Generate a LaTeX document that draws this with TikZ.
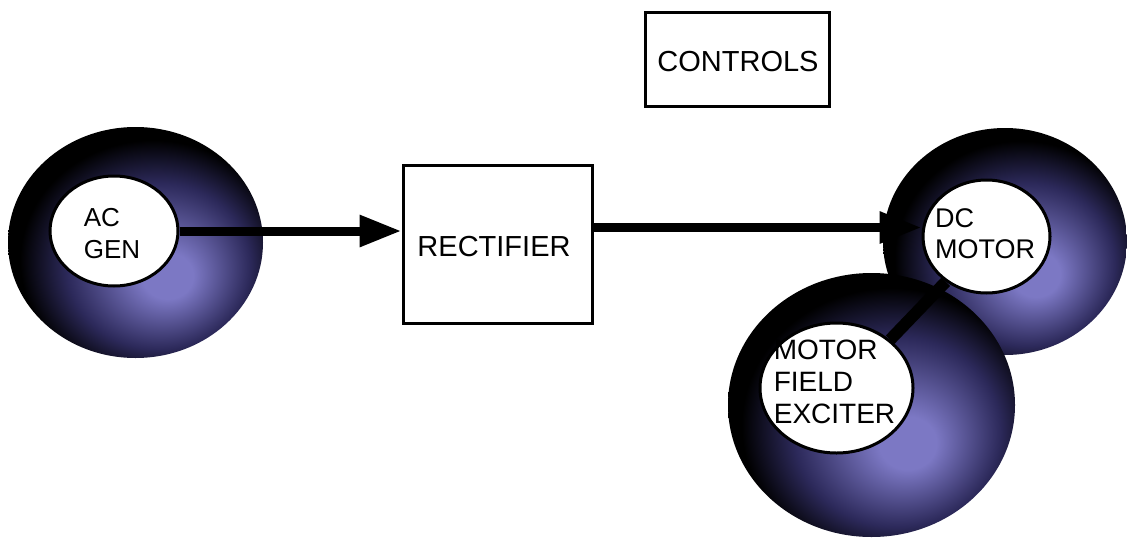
\documentclass[tikz,border=0pt]{standalone}
\usepackage{fontspec}
\setmainfont{Liberation Sans}
\usetikzlibrary{shapes.geometric,arrows.meta}
\definecolor{sphhi}{RGB}{124,120,196}
\definecolor{sphmid}{RGB}{44,41,90}
\pgfdeclareradialshading{sph}{\pgfpoint{7bp}{-8bp}}{color(0bp)=(sphhi); color(5bp)=(sphhi); color(18bp)=(sphmid); color(26bp)=(black); color(50bp)=(black)}
\begin{document}
\begin{tikzpicture}[x=1pt,y=-1pt,
  sphere/.style={ellipse, shade, shading=sph, inner sep=0pt},
  hole/.style={ellipse, draw=black, line width=3pt, fill=white, inner sep=0pt},
  box/.style={rectangle, draw=black, line width=3pt, fill=white, inner sep=0pt},
  conn/.style={line width=9pt, -{Triangle[length=42pt,width=30pt]}},
  link/.style={line width=12pt},
  lbl/.style={align=left, inner sep=0pt},
]
\useasboundingbox (0,0) rectangle (1127,541);
% spheres
\node[sphere, minimum width=244pt, minimum height=227pt] (dcs) at (1005,241.5) {};
\node[sphere, minimum width=287pt, minimum height=264pt] (exs) at (871.5,405) {};
\node[sphere, minimum width=255pt, minimum height=231pt] (acs) at (135.5,242.5) {};
% boxes
\node[box, minimum width=189pt, minimum height=158pt] (rect) at (497.5,244) {};
\node[box, minimum width=184pt, minimum height=94pt] (ctrl) at (737,59) {};
% inner white circles
\node[hole, minimum width=128pt, minimum height=110pt] (acin) at (114,231) {};
\node[hole, minimum width=127pt, minimum height=113pt] (dcin) at (986.5,236.5) {};
\node[hole, minimum width=153pt, minimum height=130pt] (exin) at (836.5,388) {};
% connectors
\draw[conn] (acin.east) -- (acin.east -| rect.west);
\draw[conn] ([yshift=9pt]dcin.west -| rect.east) -- ([yshift=9pt]dcin.west);
\draw[link] (exin.42) -- (dcin.228);
% labels
\node[lbl, font=\fontsize{26}{32}\selectfont] (actxt) at (112,233.5) {AC\\GEN};
\node[lbl, font=\fontsize{27}{31}\selectfont] (dctxt) at (985,233.5) {DC\\MOTOR};
\node[lbl, font=\fontsize{28}{32}\selectfont] (extxt) at (834.5,381.5) {MOTOR\\FIELD\\EXCITER};
\node[lbl, font=\fontsize{29}{32}\selectfont] (recttxt) at (494,247) {RECTIFIER};
\node[lbl, font=\fontsize{29}{32}\selectfont] (ctrltxt) at (738,62) {CONTROLS};
\end{tikzpicture}
\end{document}
